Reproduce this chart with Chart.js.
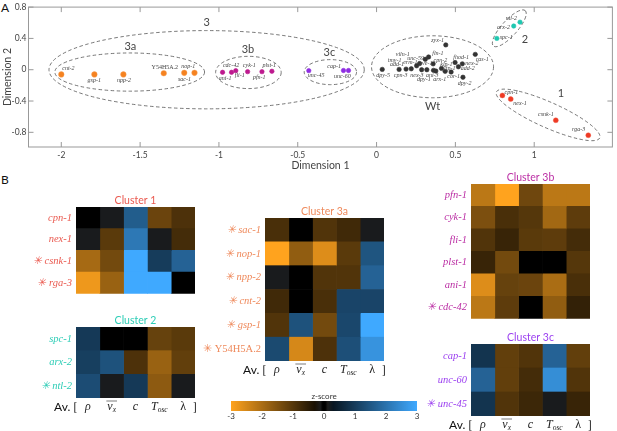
<!DOCTYPE html>
<html>
<head>
<meta charset="utf-8">
<script src="https://cdn.jsdelivr.net/npm/chart.js@4/dist/chart.umd.js"></script>
<style>
    html, body { margin: 0; padding: 0; background: #fff; overflow: hidden; }
    body { position: relative; width: 617px; height: 431px; }
    canvas { position: absolute; }
    .panel { position: absolute; font: 12px Lato, sans-serif; color: #111; }
</style>
</head>
<body>
<div class="panel" style="left:1px;top:0px">A</div>
<div class="panel" style="left:1px;top:172px">B</div>
<canvas id="scatter"></canvas>
<canvas id="cluster1"></canvas>
<canvas id="cluster2"></canvas>
<canvas id="cluster3a"></canvas>
<canvas id="cluster3b"></canvas>
<canvas id="cluster3c"></canvas>
<canvas id="colorbar"></canvas>
<script>
// Panel A values
const xTickValues = [-2, -1.5, -1, -0.5, 0, 0.5, 1];
const yTickValues = [-0.8, -0.4, 0, 0.4, 0.8];

const points3aX = [-2.0, -1.79, -1.606, -1.35, -1.22, -1.155];
const points3aY = [-0.06, -0.06, -0.06, -0.045, -0.04, -0.04];
const points3bX = [-0.977, -0.92, -0.893, -0.818, -0.727, -0.664];
const points3bY = [-0.033, -0.033, -0.012, -0.025, -0.025, -0.02];
const points3cX = [-0.43, -0.21, -0.178];
const points3cY = [-0.012, -0.01, -0.01];
const pointsWtX = [0.036, 0.143, 0.187, 0.22, 0.254, 0.273, 0.286, 0.319, 0.359, 0.361, 0.376,
    0.412, 0.435, 0.473, 0.498, 0.519, 0.544, 0.548, 0.626, 0.439, 0.309, 0.33];
const pointsWtY = [0.004, 0.004, 0.008, 0.012, 0.05, 0.079, 0, 0, 0.075, -0.008, -0.017,
    0.017, -0.021, -0.029, 0.092, 0.0375, 0.075, -0.096, 0.196, 0.317, 0.133, 0.1625];
const points2X = [0.763, 0.87, 0.91];
const points2Y = [0.4, 0.558, 0.608];
const points1X = [0.798, 0.851, 1.137, 1.343];
const points1Y = [-0.329, -0.375, -0.646, -0.8375];

// gene name, x, y in data units
const geneLabels = [
    ['cnt-2', -1.955, 0.0125], ['gsp-1', -1.791, -0.142], ['npp-2', -1.602, -0.1375],
    ['Y54H5A.2', -1.343, 0.029], ['nop-1', -1.194, 0.0375], ['sac-1', -1.219, -0.125],
    ['cdc-42', -0.923, 0.054], ['ani-1', -0.961, -0.117], ['fli-1', -0.868, -0.079],
    ['cyk-1', -0.807, 0.054], ['pfn-1', -0.744, -0.104], ['plst-1', -0.681, 0.058],
    ['unc-45', -0.383, -0.075], ['cap-1', -0.269, 0.046], ['unc-60', -0.217, -0.092],
    ['viln-1', 0.166, 0.196], ['tmy-1', 0.115, 0.125], ['add-1', 0.13, 0.0625],
    ['erm-1', 0.214, 0.0875], ['unc-59', 0.248, 0.146], ['wve-1', 0.309, 0.083],
    ['fln-1', 0.389, 0.204], ['cpn-2', 0.405, 0.121], ['klp-1', 0.443, 0.071],
    ['lfp-1', 0.464, 0.021], ['fhod-1', 0.536, 0.158], ['nex-2', 0.605, 0.079],
    ['add-2', 0.578, 0.0125], ['cas-1', 0.67, 0.1375], ['zyx-1', 0.387, 0.375],
    ['dpy-5', 0.042, -0.075], ['cpn-3', 0.153, -0.071], ['nex-3', 0.256, -0.067],
    ['ani-3', 0.353, -0.067], ['dpy-1', 0.3, -0.129], ['arx-1', 0.401, -0.121],
    ['cor-1', 0.489, -0.0875], ['dpy-2', 0.559, -0.175],
    ['ntl-2', 0.855, 0.658], ['arx-2', 0.805, 0.542], ['spc-1', 0.822, 0.4125],
    ['cpn-1', 0.855, -0.2875], ['nex-1', 0.91, -0.425], ['csnk-1', 1.074, -0.571], ['rga-3', 1.282, -0.767]
];

const groupLabels = [
    ['3', -1.078, 0.6], ['3a', -1.562, 0.292], ['3b', -0.816, 0.254], ['3c', -0.299, 0.225],
    ['Wt', 0.355, -0.467], ['2', 0.941, 0.392], ['1', 1.17, -0.308]
];

// center x, center y, radius along x, radius along y, rotation in degrees
const groupEllipses = [
    [-1.078, 0, 1.0, 0.5, 0],
    [-1.566, -0.03, 0.475, 0.244, 0],
    [-0.813, -0.035, 0.208, 0.206, 0],
    [-0.293, -0.031, 0.166, 0.16, 0],
    [0.355, 0.0375, 0.387, 0.396, 0],
    [0.842, 0.529, 0.151, 0.1, -48],
    [1.088, -0.5775, 0.359, 0.1625, 24]
];

// Panel B values: z-scores, one row per gene
const columnSymbols = ['ρ', 'v', 'c', 'T', 'λ'];
const columnSubscripts = ['', 'x', '', 'osc', ''];

const cluster1Rows = ['cpn-1', 'nex-1', '✳ csnk-1', '✳ rga-3'];
const cluster1Z = [
    [0, 0.15, 1.6, -1.25, -0.9],
    [0.15, -1.05, 2.1, 0.15, -0.8],
    [-1.95, -1.35, 3, 1.0, 1.7],
    [-2.8, -1.8, 3, 3, 0]
];
const cluster2Rows = ['spc-1', 'arx-2', '✳ ntl-2'];
const cluster2Z = [
    [0.95, 0, 0, -1.2, -1.05],
    [1.05, 1.4, -0.9, -1.8, -1.15],
    [1.3, 0.15, 0.95, -1.65, 0.15]
];
const cluster3aRows = ['✳ sac-1', '✳ nop-1', '✳ npp-2', '✳ cnt-2', '✳ gsp-1', '✳ Y54H5A.2'];
const cluster3aZ = [
    [-0.85, 0, -0.95, -0.75, 0.15],
    [-3, -1.7, -2.6, -1.05, 1.45],
    [0.15, 0, -0.95, -0.95, 1.7],
    [-0.75, 0, -0.85, 1.15, 1.15],
    [-0.95, 1.4, -1.35, 1.2, 3],
    [1.25, -2.5, -0.9, 1.35, 2.6]
];
const cluster3bRows = ['pfn-1', 'cyk-1', 'fli-1', 'plst-1', 'ani-1', '✳ cdc-42'];
const cluster3bZ = [
    [-2.2, -3, -1.3, -2.2, -2.2],
    [-1.45, -0.85, -1, -1.9, -1.1],
    [-0.95, -0.65, -1.05, -1.1, -0.8],
    [-0.65, -1.35, 0, 0, -1],
    [-2.6, -1.2, -1.25, -2, -0.85],
    [-2.2, -1.1, 0, -1.7, -0.6]
];
const cluster3cRows = ['cap-1', 'unc-60', '✳ unc-45'];
const cluster3cZ = [
    [0.85, -1.15, -0.95, 1.7, -1.15],
    [1.7, -1.15, -0.8, 2.5, -0.95],
    [0.85, -0.95, -0.7, 0.15, -0.65]
];

const colorbarTicks = [-3, -2, -1, 0, 1, 2, 3];

// z, r, g, b of the colour map
const colorStops = [
    [-3, 255, 163, 30],
    [-0.3, 26, 17, 4],
    [-0.12, 28, 28, 28],
    [-0.04, 0, 0, 0],
    [0.04, 0, 0, 0],
    [0.12, 28, 28, 28],
    [0.3, 8, 22, 34],
    [3, 63, 169, 255]
];

const sansFont = "Lato, 'Open Sans', sans-serif";
const serifFont = "'Liberation Serif', 'DejaVu Serif', serif";

function zColor(z) {
    for (let i = 1; i < colorStops.length; i++) {
        const a = colorStops[i - 1];
        const b = colorStops[i];
        if (z <= b[0]) {
            const t = (z - a[0]) / (b[0] - a[0]);
            return `rgb(${Math.round(a[1] + (b[1] - a[1]) * t)}, ${Math.round(a[2] + (b[2] - a[2]) * t)}, ${Math.round(a[3] + (b[3] - a[3]) * t)})`;
        }
    }
    return 'rgb(63, 169, 255)';
}

function place(id, left, top, width, height) {
    const canvas = document.getElementById(id);
    canvas.style.left = left + 'px';
    canvas.style.top = top + 'px';
    canvas.width = width;
    canvas.height = height;
    canvas.style.width = width + 'px';
    canvas.style.height = height + 'px';
    return canvas;
}

function zipPoints(xs, ys) {
    return xs.map((x, i) => ({ x: x, y: ys[i] }));
}

// Ellipses, texts, inward ticks and the box of panel A
const scatterDecor = {
    id: 'scatterDecor',
    beforeDatasetsDraw(chart) {
        const { ctx, scales: { x, y } } = chart;
        const perX = x.getPixelForValue(1) - x.getPixelForValue(0);
        const perY = y.getPixelForValue(0) - y.getPixelForValue(1);
        ctx.save();
        ctx.strokeStyle = '#555';
        ctx.lineWidth = 0.8;
        ctx.setLineDash([3.5, 2.5]);
        groupEllipses.forEach(e => {
            ctx.beginPath();
            ctx.ellipse(x.getPixelForValue(e[0]), y.getPixelForValue(e[1]), e[2] * perX, e[3] * perY, e[4] * Math.PI / 180, 0, Math.PI * 2);
            ctx.stroke();
        });
        ctx.restore();
    },
    afterDatasetsDraw(chart) {
        const { ctx, chartArea: area, scales: { x, y } } = chart;
        ctx.save();
        ctx.textAlign = 'center';
        ctx.textBaseline = 'middle';
        ctx.fillStyle = '#444';
        geneLabels.forEach(g => {
            ctx.font = (g[0] === 'Y54H5A.2' ? '' : 'italic ') + '6px ' + serifFont;
            ctx.fillText(g[0], x.getPixelForValue(g[1]), y.getPixelForValue(g[2]));
        });
        ctx.font = '11px ' + sansFont;
        groupLabels.forEach(g => {
            ctx.fillText(g[0], x.getPixelForValue(g[1]), y.getPixelForValue(g[2]));
        });
        ctx.strokeStyle = '#999';
        ctx.lineWidth = 1;
        ctx.strokeRect(area.left, area.top, area.right - area.left, area.bottom - area.top);
        ctx.beginPath();
        xTickValues.forEach(v => {
            const px = x.getPixelForValue(v);
            ctx.moveTo(px, area.top);
            ctx.lineTo(px, area.top + 5);
            ctx.moveTo(px, area.bottom);
            ctx.lineTo(px, area.bottom - 5);
        });
        yTickValues.forEach(v => {
            const py = y.getPixelForValue(v);
            ctx.moveTo(area.left, py);
            ctx.lineTo(area.left + 5, py);
            ctx.moveTo(area.right, py);
            ctx.lineTo(area.right - 5, py);
        });
        ctx.stroke();
        ctx.restore();
    }
};

function createScatter() {
    const canvas = place('scatter', 0, 0, 617, 172);
    const series = [
        { xs: points3aX, ys: points3aY, color: '#f58220', halo: 'rgba(245, 160, 90, 0.7)', radius: 2.8 },
        { xs: points3bX, ys: points3bY, color: '#bd1a8e', halo: '#bd1a8e', radius: 2.2 },
        { xs: points3cX, ys: points3cY, color: '#8e2de2', halo: '#8e2de2', radius: 2.2 },
        { xs: pointsWtX, ys: pointsWtY, color: '#333', halo: '#333', radius: 2.2 },
        { xs: points2X, ys: points2Y, color: '#1fc7b0', halo: '#1fc7b0', radius: 2.2 },
        { xs: points1X, ys: points1Y, color: '#ee3a24', halo: 'rgba(240, 90, 70, 0.7)', radius: 2.5 }
    ];
    new Chart(canvas, {
        type: 'scatter',
        data: {
            datasets: series.map(s => ({
                data: zipPoints(s.xs, s.ys),
                backgroundColor: s.color,
                borderColor: s.halo,
                borderWidth: 0.6,
                pointRadius: s.radius
            }))
        },
        options: {
            responsive: false,
            animation: false,
            layout: { padding: { top: 4, right: 1, left: 0, bottom: 0 } },
            plugins: { legend: { display: false }, tooltip: { enabled: false } },
            scales: {
                x: {
                    type: 'linear',
                    min: -2.208,
                    max: 1.496,
                    grid: { display: false, drawTicks: false },
                    border: { display: false },
                    afterBuildTicks: axis => { axis.ticks = xTickValues.map(v => ({ value: v })); },
                    afterFit: axis => { axis.height = 25; },
                    ticks: {
                        padding: 3,
                        maxRotation: 0,
                        autoSkip: false,
                        color: '#444',
                        font: { family: sansFont, size: 8.5 },
                        callback: v => String(v)
                    },
                    title: {
                        display: true,
                        text: 'Dimension 1',
                        color: '#444',
                        font: { family: sansFont, size: 10.5 },
                        padding: { top: 0, bottom: 0 }
                    }
                },
                y: {
                    type: 'linear',
                    min: -0.9875,
                    max: 0.8,
                    grid: { display: false, drawTicks: false },
                    border: { display: false },
                    afterBuildTicks: axis => { axis.ticks = yTickValues.map(v => ({ value: v })); },
                    afterFit: axis => { axis.width = 28.5; },
                    ticks: {
                        padding: 2,
                        autoSkip: false,
                        color: '#444',
                        font: { family: sansFont, size: 8.5 },
                        callback: v => String(v)
                    },
                    title: {
                        display: true,
                        text: 'Dimension 2',
                        color: '#444',
                        font: { family: sansFont, size: 10.5 },
                        padding: { top: 1, bottom: 0 }
                    }
                }
            }
        },
        plugins: [scatterDecor]
    });
}

// Writes "Av. [ rho v_x c T_osc lambda ]" under a heatmap
const columnLabels = {
    id: 'columnLabels',
    afterDraw(chart) {
        const { ctx, chartArea: area, scales: { x } } = chart;
        const y = area.bottom + 9;
        ctx.save();
        ctx.textBaseline = 'middle';
        ctx.fillStyle = '#222';
        columnSymbols.forEach((symbol, i) => {
            const sub = columnSubscripts[i];
            const mainFont = (symbol === 'λ' ? '' : 'italic ') + '12px ' + serifFont;
            const subFont = 'italic 7.5px ' + serifFont;
            ctx.font = mainFont;
            const mainWidth = ctx.measureText(symbol).width;
            ctx.font = subFont;
            const subWidth = sub ? ctx.measureText(sub).width : 0;
            const startX = x.getPixelForValue(i + 0.5) - (mainWidth + subWidth) / 2;
            ctx.textAlign = 'left';
            ctx.font = mainFont;
            ctx.fillText(symbol, startX, y);
            if (sub) {
                ctx.font = subFont;
                ctx.fillText(sub, startX + mainWidth, y + 3);
            }
            if (symbol === 'v') {
                ctx.strokeStyle = '#222';
                ctx.lineWidth = 0.6;
                ctx.beginPath();
                ctx.moveTo(startX - 1, y - 6);
                ctx.lineTo(startX + mainWidth + subWidth + 1, y - 6);
                ctx.stroke();
            }
        });
        ctx.fillStyle = '#111';
        ctx.textAlign = 'right';
        ctx.font = '12px ' + sansFont;
        ctx.fillText('Av. [', area.left + 1, y);
        ctx.textAlign = 'center';
        ctx.fillText(']', area.right, y);
        ctx.restore();
    }
};

function createHeatmap(id, title, titleColor, rows, zRows, left, top, plotLeft, plotRight, plotBottom, withSymbols) {
    const width = plotRight - left + 12;
    const height = plotBottom - top + (withSymbols ? 16 : 2);
    const canvas = place(id, left, top, width, height);
    const datasets = columnSymbols.map((symbol, c) => ({
        data: rows.map(() => 1),
        backgroundColor: zRows.map(row => zColor(row[c])),
        borderWidth: 0,
        barPercentage: 1,
        categoryPercentage: 1
    }));
    new Chart(canvas, {
        type: 'bar',
        data: { labels: rows, datasets: datasets },
        options: {
            indexAxis: 'y',
            responsive: false,
            animation: false,
            layout: { padding: { top: 0, right: 12, left: 0, bottom: withSymbols ? 16 : 2 } },
            plugins: {
                legend: { display: false },
                tooltip: { enabled: false },
                title: {
                    display: true,
                    text: title,
                    fullSize: false,
                    color: titleColor,
                    font: { family: sansFont, size: 10.5, weight: 'normal', lineHeight: 1 },
                    padding: { top: 4, bottom: 1.5 }
                }
            },
            scales: {
                x: { type: 'linear', stacked: true, min: 0, max: 5, display: false },
                y: {
                    type: 'category',
                    stacked: true,
                    grid: { display: false, drawTicks: false },
                    border: { display: false },
                    afterFit: axis => { axis.width = plotLeft - left; },
                    ticks: {
                        padding: 4,
                        autoSkip: false,
                        color: titleColor,
                        font: ctx => ({
                            family: serifFont,
                            size: 10.5,
                            style: String(rows[ctx.index]).includes('Y54') ? 'normal' : 'italic'
                        })
                    }
                }
            }
        },
        plugins: withSymbols ? [columnLabels] : []
    });
}

function createColorbar() {
    const canvas = place('colorbar', 221, 391, 206, 31);
    new Chart(canvas, {
        type: 'bar',
        data: {
            labels: ['z-score'],
            datasets: [{
                data: [[-3, 3]],
                borderWidth: 0,
                barPercentage: 1,
                categoryPercentage: 1,
                backgroundColor: ctx => {
                    const area = ctx.chart.chartArea;
                    if (!area) return '#000';
                    const gradient = ctx.chart.ctx.createLinearGradient(area.left, 0, area.right, 0);
                    colorStops.forEach(s => gradient.addColorStop((s[0] + 3) / 6, zColor(s[0])));
                    return gradient;
                }
            }]
        },
        options: {
            indexAxis: 'y',
            responsive: false,
            animation: false,
            layout: { padding: { left: 10, right: 10, top: 0, bottom: 0 } },
            plugins: {
                legend: { display: false },
                tooltip: { enabled: false },
                title: {
                    display: true,
                    text: 'z-score',
                    color: '#333',
                    font: { family: sansFont, size: 8, weight: 'normal', lineHeight: 1 },
                    padding: { top: 1, bottom: 1 }
                }
            },
            scales: {
                x: {
                    type: 'linear',
                    min: -3,
                    max: 3,
                    grid: { display: false, drawTicks: false },
                    border: { display: false },
                    afterBuildTicks: axis => { axis.ticks = colorbarTicks.map(v => ({ value: v })); },
                    afterFit: axis => { axis.height = 11; },
                    ticks: { padding: 1, color: '#333', font: { family: sansFont, size: 8 }, callback: v => String(v) }
                },
                y: { type: 'category', display: false }
            }
        }
    });
}

createScatter();
createHeatmap('cluster1', 'Cluster 1', '#ea5a50', cluster1Rows, cluster1Z, 0, 191, 76, 195, 302, false);
createHeatmap('cluster2', 'Cluster 2', '#2dcdb6', cluster2Rows, cluster2Z, 0, 311, 76, 195, 398, true);
createHeatmap('cluster3a', 'Cluster 3a', '#ef8a5c', cluster3aRows, cluster3aZ, 200, 202, 265, 384, 361, true);
createHeatmap('cluster3b', 'Cluster 3b', '#bb2ea4', cluster3bRows, cluster3bZ, 420, 168, 471, 590, 327, false);
createHeatmap('cluster3c', 'Cluster 3c', '#9b3ff0', cluster3cRows, cluster3cZ, 420, 328, 471, 590, 416, true);
createColorbar();
</script>
</body>
</html>
